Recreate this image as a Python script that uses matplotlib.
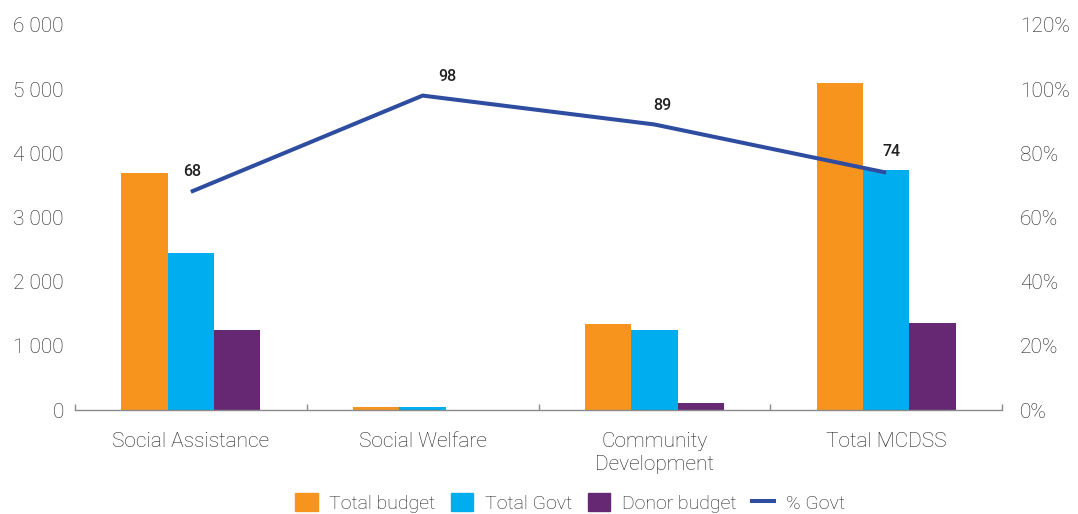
import matplotlib
matplotlib.use("Agg")
import matplotlib.pyplot as plt
from matplotlib.patches import Patch
from matplotlib.lines import Line2D
from matplotlib.ticker import FuncFormatter, FixedLocator
import numpy as np

categories = ["Social Assistance", "Social Welfare", "Community\nDevelopment", "Total MCDSS"]
total_budget = [3700, 50, 1345, 5090]
total_govt = [2440, 48, 1250, 3740]
donor_budget = [1250, 0, 110, 1360]
pct_govt = [68, 98, 89, 74]
pct_labels = ["68", "98", "89", "74"]
series_names = ["Total budget", "Total Govt", "Donor budget", "% Govt"]

C_ORANGE = "#F7941D"
C_BLUE = "#00AEEF"
C_PURPLE = "#662873"
C_LINE = "#2F4DA0"
TXT = "#1f1f1f"
FONT = "Roboto"

plt.rcParams["font.family"] = [FONT, "DejaVu Sans"]
plt.rcParams["font.weight"] = "light"

fig = plt.figure(figsize=(10.78, 5.14), dpi=100)
W, H = 1078, 514
ax = fig.add_axes([75 / W, 1 - 410 / H, (1002 - 75) / W, (410 - 25) / H])
ax2 = ax.twinx()

x = np.arange(len(categories))
bw = 0.2
ax.bar(x - bw, total_budget, bw, color=C_ORANGE, zorder=2)
ax.bar(x, total_govt, bw, color=C_BLUE, zorder=2)
ax.bar(x + bw, donor_budget, bw, color=C_PURPLE, zorder=2)

ax.set_xlim(-0.5, len(categories) - 0.5)
ax.set_ylim(0, 6000)
ax2.set_ylim(0, 120)

ax2.plot(x, pct_govt, color=C_LINE, lw=2.9, solid_capstyle="butt", zorder=3)
offsets = [(1, 9), (18, 8), (6, 8), (4, 10)]
for xi, v, lab, off in zip(x, pct_govt, pct_labels, offsets):
    ax2.annotate(lab, (xi, v), xytext=off, textcoords="offset points",
                 ha="center", va="bottom", fontsize=11.5, fontweight="medium",
                 color="#222222", family=[FONT, "DejaVu Sans"])

for s in ["top", "left", "right"]:
    ax.spines[s].set_visible(False)
    ax2.spines[s].set_visible(False)
ax2.spines["bottom"].set_visible(False)
ax.spines["bottom"].set_color("#8a8a8a")
ax.spines["bottom"].set_linewidth(1.0)

# x ticks: boundaries as major ticks (no labels), centers as minor labels
ax.xaxis.set_major_locator(FixedLocator(np.arange(-0.5, len(categories), 1.0)))
ax.xaxis.set_major_formatter(FuncFormatter(lambda v, p: ""))
ax.tick_params(axis="x", which="major", direction="in", length=4, width=1, color="#8a8a8a")
ax.set_xticks(x, minor=True)
ax.set_xticklabels(categories, minor=True, fontsize=15, color=TXT, linespacing=1.25)
ax.tick_params(axis="x", which="minor", length=0, pad=16)

ax.set_yticks(np.arange(0, 6001, 1000))
ax.yaxis.set_major_formatter(FuncFormatter(lambda v, p: f"{int(v):,}".replace(",", " ")))
ax.tick_params(axis="y", length=0, pad=8, labelsize=15, labelcolor=TXT)

ax2.set_yticks(np.arange(0, 121, 20))
ax2.yaxis.set_major_formatter(FuncFormatter(lambda v, p: f"{int(v)}%"))
ax2.tick_params(axis="y", length=0, pad=13, labelsize=15, labelcolor=TXT)

handles = [Patch(color=C_ORANGE), Patch(color=C_BLUE), Patch(color=C_PURPLE),
           Line2D([], [], color=C_LINE, lw=2.9)]
fig.legend(handles, series_names, loc="center", bbox_to_anchor=(570 / W, 1 - 503 / H),
           ncol=4, frameon=False, fontsize=14, handlelength=1.15, handleheight=1.05,
           handletextpad=0.6, columnspacing=0.8, labelcolor=TXT)

fig.savefig("out.png", dpi=100)
